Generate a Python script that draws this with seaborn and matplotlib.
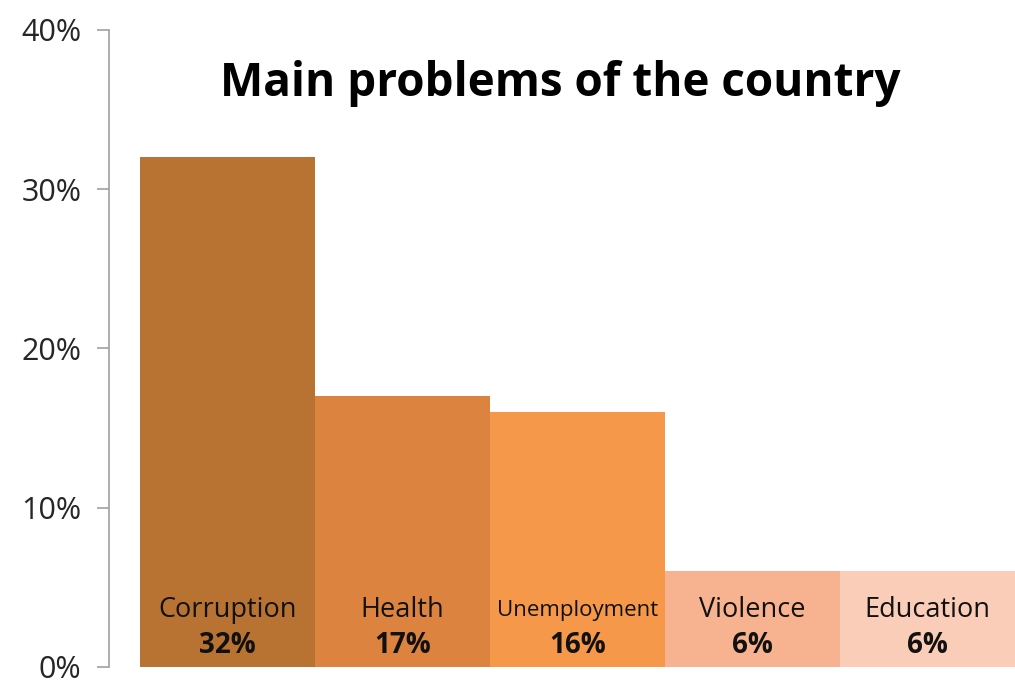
import matplotlib

matplotlib.use("Agg")
import matplotlib.pyplot as plt
import pandas as pd
import seaborn as sns
from matplotlib.ticker import FuncFormatter

categories = ["Corruption", "Health", "Unemployment", "Violence", "Education"]
shares = [32, 17, 16, 6, 6]
bar_colors = ["#B87333", "#DC843F", "#F59849", "#F7B38F", "#FACDB8"]
yticks = [0, 10, 20, 30, 40]

sns.set_theme(style="white")
plt.rcParams["font.family"] = ["Open Sans", "DejaVu Sans"]

df = pd.DataFrame({"problem": categories, "share": shares})

fig = plt.figure(figsize=(10.15, 6.84), dpi=100)
ax = fig.add_axes([109 / 1015, 17 / 684, 1 - 109 / 1015, 637 / 684])
sns.barplot(data=df, x="problem", y="share", hue="problem", palette=bar_colors,
            width=1.0, legend=False, saturation=1, linewidth=0, ax=ax)

ax.set_xlim(-0.5 - 31 / 176, 4.5)
ax.set_ylim(0, 40)
ax.set_yticks(yticks)
ax.yaxis.set_major_formatter(FuncFormatter(lambda v, _: f"{v:.0f}%"))
ax.tick_params(axis="y", labelsize=22, length=9, width=1.2, color="#A0A0A0",
               left=True, pad=11)
ax.set_xticks([])
ax.set_xlabel("")
ax.set_ylabel("")
for side in ["top", "right", "bottom"]:
    ax.spines[side].set_visible(False)
ax.spines["left"].set_color("#A0A0A0")
ax.spines["left"].set_linewidth(1.2)

for i, (name, v) in enumerate(zip(categories, shares)):
    size = 16 if len(name) > 10 else 19.5
    ax.text(i, 3.55, name, ha="center", va="center", fontsize=size, color="#111")
    ax.text(i, 1.35, f"{v}%", ha="center", va="center", fontsize=20,
            fontweight="bold", color="#111")

fig.text(0.552, 0.878, "Main problems of the country", ha="center", va="center",
         fontsize=33, fontweight="bold", color="black")

fig.savefig("out.png", dpi=100)
